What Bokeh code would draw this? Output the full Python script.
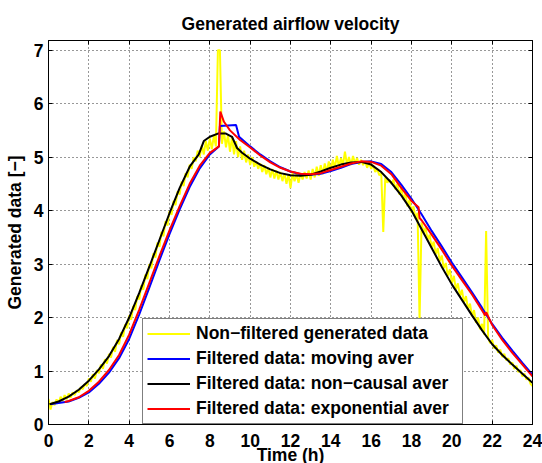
import numpy as np
from bokeh.plotting import figure
from bokeh.models import Range1d, LinearAxis, FixedTicker, Legend, LegendItem, Title
from bokeh.embed import file_html
from bokeh.resources import INLINE

FONT = "Liberation Sans"
FS = "17.5px"

# ---------------- data ----------------
x_ticks = [0, 2, 4, 6, 8, 10, 12, 14, 16, 18, 20, 22, 24]
y_ticks = [0, 1, 2, 3, 4, 5, 6, 7]

# raw generated data, sampled every 0.1 h from 0 to 24 h
raw_t = np.linspace(0, 24, 241)
raw_y = [
    0.48, 0.28, 0.42, 0.36, 0.47, 0.40, 0.52, 0.44, 0.55, 0.47,
    0.58, 0.50, 0.60, 0.55, 0.64, 0.60, 0.70, 0.66, 0.76, 0.72,
    0.86, 0.80, 0.94, 0.86, 1.02, 0.96, 1.12, 1.04, 1.22, 1.14,
    1.32, 1.25, 1.45, 1.36, 1.58, 1.50, 1.72, 1.64, 1.87, 1.80,
    2.04, 1.96, 2.22, 2.14, 2.40, 2.34, 2.60, 2.52, 2.80, 2.72,
    3.00, 2.92, 3.20, 3.12, 3.40, 3.32, 3.60, 3.52, 3.80, 3.72,
    3.99, 3.92, 4.18, 4.10, 4.36, 4.30, 4.54, 4.46, 4.70, 4.62,
    4.86, 4.78, 5.00, 4.92, 5.12, 5.00, 5.22, 5.05, 5.30, 5.12,
    5.35, 5.15, 5.40, 5.20, 7.00, 7.00, 5.25, 5.48, 5.18, 5.42,
    5.10, 5.38, 5.05, 5.30, 5.00, 5.20, 4.95, 5.12, 4.90, 5.05,
    4.85, 5.00, 4.82, 4.92, 4.78, 4.88, 4.72, 4.85, 4.68, 4.80,
    4.62, 4.78, 4.60, 4.75, 4.58, 4.72, 4.55, 4.70, 4.50, 4.68,
    4.42, 4.70, 4.55, 4.68, 4.52, 4.70, 4.58, 4.72, 4.60, 4.75,
    4.58, 4.78, 4.62, 4.82, 4.65, 4.85, 4.68, 4.88, 4.72, 4.92,
    4.75, 4.95, 4.80, 5.02, 4.82, 4.98, 4.85, 5.10, 4.86, 5.00,
    4.85, 5.02, 4.88, 4.98, 4.86, 4.95, 4.85, 4.92, 4.80, 4.90,
    4.78, 4.85, 4.72, 4.78, 4.66, 4.70, 3.60, 4.62, 4.52, 4.58,
    4.50, 4.58, 4.40, 4.50, 4.30, 4.42, 4.20, 4.32, 4.08, 4.20,
    3.96, 4.08, 3.85, 3.96, 1.95, 3.78, 3.58, 3.68, 3.45, 3.55,
    3.30, 3.42, 3.18, 3.30, 3.05, 3.16, 2.92, 3.02, 2.78, 2.90,
    2.64, 2.78, 2.52, 2.64, 2.40, 2.52, 2.28, 2.40, 2.16, 2.26,
    2.02, 2.14, 1.90, 2.00, 1.78, 1.88, 1.68, 3.62, 1.62, 1.52,
    1.58, 1.42, 1.48, 1.34, 1.40, 1.26, 1.32, 1.20, 1.24, 1.12,
    1.16, 1.04, 1.10, 0.98, 1.02, 0.90, 0.95, 0.84, 0.88, 0.76,
    0.72,
]

moving_t = [0.1, 0.5, 1, 1.5, 2, 2.5, 3, 3.5, 4, 4.5, 5, 5.5, 6, 6.5, 7, 7.5, 8,
            8.45, 8.5, 9.3, 9.45, 10, 10.5, 11, 11.5, 12, 12.5, 13, 13.5, 14,
            14.5, 15, 15.5, 16, 16.5, 17, 17.5, 18, 18.5, 19, 19.5, 20, 20.5,
            21, 21.5, 22, 22.5, 23, 23.5, 24]
moving_y = [0.38, 0.40, 0.43, 0.50, 0.60, 0.76, 0.97, 1.24, 1.60, 2.06, 2.56,
            3.07, 3.56, 4.02, 4.44, 4.79, 5.05, 5.20, 5.58, 5.60, 5.38, 5.20,
            5.05, 4.92, 4.81, 4.73, 4.68, 4.67, 4.69, 4.74, 4.80, 4.87, 4.91,
            4.92, 4.87, 4.72, 4.48, 4.22, 3.93, 3.62, 3.33, 3.03, 2.75, 2.47,
            2.18, 1.88, 1.62, 1.38, 1.15, 0.93]

noncausal_t = [0.05, 0.5, 1, 1.5, 2, 2.5, 3, 3.5, 4, 4.5, 5, 5.5, 6, 6.5, 7,
               7.45, 7.7, 8.0, 8.4, 8.8, 9.1, 9.35, 9.6, 10, 10.5, 11, 11.5,
               12, 12.5, 13, 13.5, 14, 14.5, 15, 15.5, 16, 16.5, 17, 17.5, 18,
               18.5, 19, 19.5, 20, 20.5, 21, 21.5, 22, 22.5, 23, 23.5, 24]
noncausal_y = [0.38, 0.43, 0.52, 0.65, 0.82, 1.03, 1.28, 1.60, 2.00, 2.46,
               2.95, 3.45, 3.95, 4.42, 4.82, 5.05, 5.30, 5.38, 5.44, 5.44,
               5.38, 5.17, 5.08, 4.97, 4.86, 4.77, 4.70, 4.66, 4.65, 4.67,
               4.73, 4.80, 4.86, 4.90, 4.91, 4.86, 4.72, 4.52, 4.28, 4.00,
               3.65, 3.30, 2.95, 2.62, 2.33, 2.04, 1.76, 1.50, 1.30, 1.12,
               0.95, 0.78]

expo_t = [0.8, 1, 1.5, 2, 2.5, 3, 3.5, 4, 4.5, 5, 5.5, 6, 6.5, 7, 7.5, 8, 8.45,
          8.52, 8.7, 9.0, 9.5, 10, 10.5, 11, 11.5, 12, 12.5, 13, 13.5, 14, 14.5,
          15, 15.5, 16, 16.5, 17, 17.5, 18, 18.35, 18.4, 18.5, 19, 19.5, 20,
          20.5, 21, 21.5, 21.65, 21.7, 22, 22.5, 23, 23.5, 24]
expo_y = [0.42, 0.44, 0.51, 0.63, 0.80, 1.02, 1.30, 1.68, 2.15, 2.65, 3.15,
          3.63, 4.08, 4.50, 4.84, 5.08, 5.20, 5.85, 5.66, 5.50, 5.32, 5.18,
          5.03, 4.90, 4.80, 4.73, 4.69, 4.68, 4.70, 4.76, 4.82, 4.88, 4.92,
          4.91, 4.84, 4.68, 4.42, 4.18, 4.06, 3.86, 3.82, 3.55, 3.27, 2.97,
          2.70, 2.43, 2.13, 2.04, 2.10, 1.86, 1.58, 1.34, 1.12, 0.90]

labels = ["Non\u2212filtered generated data",
          "Filtered data: moving aver",
          "Filtered data: non\u2212causal aver",
          "Filtered data: exponential aver"]
colors = ["#FFFF00", "#0000FF", "#000000", "#FF0000"]

# ---------------- figure ----------------
p = figure(width=542, height=463, output_backend="svg", toolbar_location=None,
           x_range=Range1d(0, 24), y_range=Range1d(0, 7.18),
           min_border_left=48, min_border_right=10, min_border_top=40,
           min_border_bottom=39, background_fill_color="white",
           border_fill_color="white")

p.title.text = "Generated airflow velocity"
p.title.align = "center"
p.title.text_font = FONT
p.title.text_font_size = FS
p.title.text_font_style = "bold"
p.title.text_color = "black"
p.title.standoff = 13

xt = FixedTicker(ticks=x_ticks)
yt = FixedTicker(ticks=y_ticks)

for ax in (p.xaxis[0], p.yaxis[0]):
    ax.major_label_text_font = FONT
    ax.major_label_text_font_size = FS
    ax.major_label_text_font_style = "bold"
    ax.major_label_text_color = "black"
    ax.major_tick_in = 4
    ax.major_tick_out = 0
    ax.minor_tick_line_color = None
    ax.axis_line_color = "black"
    ax.major_tick_line_color = "black"
p.xaxis[0].ticker = xt
p.yaxis[0].ticker = yt
p.xaxis[0].major_label_standoff = 9
p.yaxis[0].major_label_standoff = 5

p.yaxis[0].axis_label = "Generated data [\u2212]"
p.yaxis[0].axis_label_text_font = FONT
p.yaxis[0].axis_label_text_font_size = FS
p.yaxis[0].axis_label_text_font_style = "bold"
p.yaxis[0].axis_label_text_color = "black"
p.yaxis[0].axis_label_standoff = 6

top_ax = LinearAxis(ticker=xt, major_label_text_font_size="0px",
                    major_label_standoff=0, major_tick_in=4, major_tick_out=0,
                    minor_tick_line_color=None, axis_line_color="black")
right_ax = LinearAxis(ticker=yt, major_label_text_font_size="0px",
                      major_label_standoff=0, major_tick_in=4, major_tick_out=0,
                      minor_tick_line_color=None, axis_line_color="black")
p.add_layout(top_ax, "above")
p.add_layout(right_ax, "right")

# x-axis label, as a title below the tick labels
xlabel = Title(text="Time (h)", align="center", vertical_align="bottom",
               standoff=-14, text_font=FONT, text_font_size=FS,
               text_font_style="bold", text_color="black")
p.add_layout(xlabel, "below")

p.xgrid.ticker = xt
p.ygrid.ticker = yt
for g in (p.xgrid[0], p.ygrid[0]):
    g.grid_line_color = "#303030"
    g.grid_line_dash = "1 3"
    g.grid_line_width = 1

p.outline_line_color = "black"
p.outline_line_alpha = 1

r_raw = p.line(raw_t, raw_y, color=colors[0], line_width=2)
r_mov = p.line(moving_t, moving_y, color=colors[1], line_width=2)
r_nc = p.line(noncausal_t, noncausal_y, color=colors[2], line_width=2)
r_exp = p.line(expo_t, expo_y, color=colors[3], line_width=2)

legend = Legend(items=[LegendItem(label=labels[0], renderers=[r_raw]),
                       LegendItem(label=labels[1], renderers=[r_mov]),
                       LegendItem(label=labels[2], renderers=[r_nc]),
                       LegendItem(label=labels[3], renderers=[r_exp])],
                location=(94, 0))
legend.label_text_font = FONT
legend.label_text_font_size = FS
legend.label_text_font_style = "bold"
legend.label_text_color = "black"
legend.glyph_width = 43
legend.glyph_height = 21
legend.label_height = 21
legend.label_width = 262
legend.label_standoff = 6
legend.spacing = 4
legend.padding = 4
legend.margin = 0
legend.border_line_color = "black"
legend.border_line_width = 1
legend.background_fill_color = "white"
legend.background_fill_alpha = 1
p.add_layout(legend, "center")

open("out.html", "w").write(file_html(p, INLINE))
